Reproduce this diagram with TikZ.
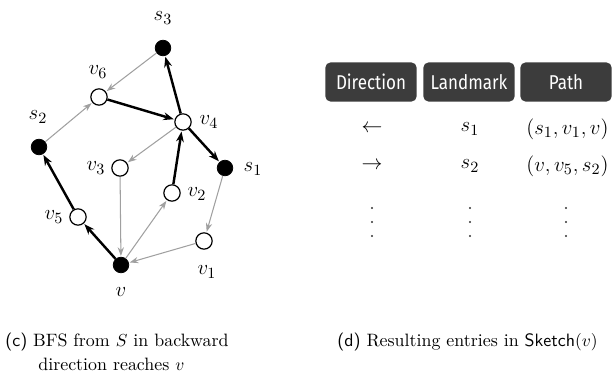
\documentclass[tikz,border=0pt]{standalone}
\usepackage{fontspec}
\usetikzlibrary{arrows.meta}
\newfontfamily\hdrfont[FakeStretch=0.85]{Fira Sans}
\definecolor{edgegray}{HTML}{A0A0A0}
\definecolor{hdrgray}{HTML}{3C3C3C}
\begin{document}
\begin{tikzpicture}[x=0.575pt,y=-0.575pt,
  wnode/.style={circle,draw=black,line width=0.7pt,fill=white,minimum size=9.4pt,inner sep=0pt},
  bnode/.style={circle,draw=black,fill=black,minimum size=9pt,inner sep=0pt},
  glabel/.style={font=\fontsize{13}{15}\selectfont,inner sep=0pt},
  gedge/.style={draw=edgegray,line width=0.6pt,-{Stealth[length=5pt,width=3.6pt]},shorten >=0.5pt},
  bedge/.style={draw=black,line width=1.4pt,-{Stealth[length=6pt,width=4.5pt]},shorten >=0.5pt},
  hdr/.style={fill=hdrgray,rounded corners=3pt,minimum width=52.5pt,minimum height=22.5pt,inner sep=0pt,text=white,font=\hdrfont\fontsize{11.5}{12}\selectfont},
  entry/.style={font=\fontsize{13}{15}\selectfont,inner sep=0pt},
  vdot/.style={circle,fill=black!80,minimum size=1.3pt,inner sep=0pt},
  captext/.style={font=\fontsize{10.3}{12}\selectfont,inner sep=0pt,anchor=base west}]
\useasboundingbox (0,0) rectangle (614,387);
% graph nodes
\node[bnode] (s3) at (163,48) {};
\node[wnode] (v6) at (99,97) {};
\node[wnode] (v4) at (183,122) {};
\node[bnode] (s2) at (39,147) {};
\node[bnode] (s1) at (225,168) {};
\node[wnode] (v3) at (120,168) {};
\node[wnode] (v2) at (172,193) {};
\node[wnode] (v5) at (78,217) {};
\node[wnode] (v1) at (204,241) {};
\node[bnode] (v) at (121,265) {};
% labels
\node[glabel] (ls3) at (163,18) {$s_3$};
\node[glabel] (lv6) at (98,72) {$v_6$};
\node[glabel] (lv4) at (209,122) {$v_4$};
\node[glabel] (ls2) at (38,117) {$s_2$};
\node[glabel] (ls1) at (253,169) {$s_1$};
\node[glabel] (lv3) at (96,168) {$v_3$};
\node[glabel] (lv2) at (197,194) {$v_2$};
\node[glabel] (lv5) at (54,217) {$v_5$};
\node[glabel] (lv1) at (207,272) {$v_1$};
\node[glabel] (lv) at (121,292) {$v$};
% edges
\draw[gedge] (s3) -- (v6);
\draw[gedge] (s2) -- (v6);
\draw[gedge] (v4) -- (v3);
\draw[gedge] (v3) -- (v);
\draw[gedge] (v) -- (v2);
\draw[gedge] (s1) -- (v1);
\draw[gedge] (v1) -- (v);
\draw[bedge] (v6) -- (v4);
\draw[bedge] (v4) -- (s3);
\draw[bedge] (v4) -- (s1);
\draw[bedge] (v2) -- (v4);
\draw[bedge] (v) -- (v5);
\draw[bedge] (v5) -- (s2);
% table
\node[hdr] (hd) at (371,82) {Direction};
\node[hdr] (hl) at (469,82) {Landmark};
\node[hdr] (hp) at (566,82) {Path};
\node[entry] (d1) at (372,129) {$\leftarrow$};
\node[entry] (l1) at (470,129) {$s_1$};
\node[entry,anchor=west] (p1) at (526,129) {$(s_1,v_1,v)$};
\node[entry] (d2) at (372,166) {$\rightarrow$};
\node[entry] (l2) at (470,166) {$s_2$};
\node[entry,anchor=west] (p2) at (526,166) {$(v,v_5,s_2)$};
\foreach \cx/\nm in {372/d, 470/l, 566/p}{
  \node[vdot] (\nm dotA) at (\cx,208) {};
  \node[vdot] (\nm dotB) at (\cx,222) {};
  \node[vdot] (\nm dotC) at (\cx,236) {};
}
% captions
\node[captext] (c1) at (5,347) {\textsf{(c)} BFS from $S$ in backward};
\node[captext] (c2) at (38,370) {direction reaches $v$};
\node[captext] (d1c) at (337,347) {\textsf{(d)} Resulting entries in $\mathsf{Sketch}(v)$};
\end{tikzpicture}
\end{document}
